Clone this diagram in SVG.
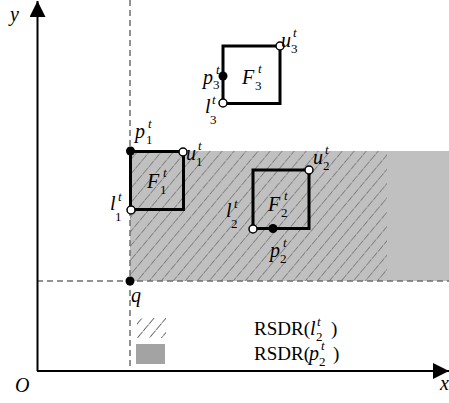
<svg xmlns="http://www.w3.org/2000/svg" width="449" height="403" viewBox="0 0 449 403" font-family="Liberation Serif">
  <style>
    .ax { stroke: #000; stroke-width: 2; fill: none; }
    .guide { stroke: #6f6f6f; stroke-width: 1.5; stroke-dasharray: 6 4; fill: none; }
    .box { stroke: #000; stroke-width: 3; fill: none; }
    .open { fill: #fff; stroke: #000; stroke-width: 1.5; }
    .solid { fill: #000; }
    .it { font-style: italic; font-size: 20px; }
    .ix { font-style: italic; font-size: 13px; }
    .sx { font-size: 13px; }
    .rm { font-size: 19px; }
  </style>
  <defs>
    <pattern id="hatch" patternUnits="userSpaceOnUse" width="9.2" height="9.2" patternTransform="rotate(40)">
      <line x1="0" y1="0" x2="0" y2="9.2" stroke="#555" stroke-width="1.1" stroke-dasharray="5 1"/>
    </pattern>
    <pattern id="hatchKey" patternUnits="userSpaceOnUse" width="9.2" height="9.2" patternTransform="rotate(40)">
      <line x1="0" y1="0" x2="0" y2="9.2" stroke="#111" stroke-width="1.2" stroke-dasharray="5 1"/>
    </pattern>
    <marker id="arrow" viewBox="0 0 16 16" refX="16" refY="8" markerWidth="16" markerHeight="16" markerUnits="userSpaceOnUse" orient="auto">
      <path d="M0,0 L16,8 L0,16 Z" fill="#000"/>
    </marker>
  </defs>

  <!-- dominance regions -->
  <g id="regions">
    <rect x="130" y="151" width="319" height="130" fill="#c0c0c0"/>
    <rect x="130" y="151" width="257" height="130" fill="url(#hatch)"/>
  </g>

  <!-- guide lines through q -->
  <g id="guides">
    <line class="guide" x1="130" y1="0" x2="130" y2="371"/>
    <line class="guide" x1="37" y1="281" x2="449" y2="281"/>
  </g>

  <!-- axes -->
  <g id="axes">
    <line class="ax" x1="37.5" y1="371" x2="37.5" y2="1" marker-end="url(#arrow)"/>
    <line class="ax" x1="37" y1="371" x2="449" y2="371" marker-end="url(#arrow)"/>
    <text class="it" x="10" y="21">y</text>
    <text class="it" x="15" y="392">O</text>
    <text class="it" x="440" y="390">x</text>
  </g>

  <!-- query point -->
  <g id="q">
    <circle class="solid" cx="130" cy="281" r="4.5"/>
    <text class="it" x="131" y="302">q</text>
  </g>

  <!-- object F1 -->
  <g id="F1">
    <rect class="box" x="130.5" y="151.5" width="53" height="58"/>
    <circle class="solid" cx="130.5" cy="151" r="4.5"/>
    <circle class="open" cx="183" cy="152" r="4"/>
    <circle class="open" cx="131" cy="210" r="4"/>
    <text class="it" x="147" y="188">F</text><text class="sx" x="160" y="194">1</text><text class="ix" x="163" y="177">t</text>
    <text class="it" x="135" y="138">p</text><text class="sx" x="146" y="144">1</text><text class="ix" x="148" y="128">t</text>
    <text class="it" x="186" y="160">u</text><text class="sx" x="196" y="166">1</text><text class="ix" x="198" y="150">t</text>
    <text class="it" x="110" y="210">l</text><text class="sx" x="115" y="221">1</text><text class="ix" x="118" y="201">t</text>
  </g>

  <!-- object F2 -->
  <g id="F2">
    <rect class="box" x="253" y="170" width="56" height="58.5"/>
    <circle class="open" cx="309" cy="170" r="4"/>
    <circle class="solid" cx="273" cy="228.5" r="4.5"/>
    <circle class="open" cx="253" cy="229" r="4"/>
    <text class="it" x="268" y="211">F</text><text class="sx" x="281" y="217">2</text><text class="ix" x="284" y="200">t</text>
    <text class="it" x="313" y="164">u</text><text class="sx" x="323" y="170">2</text><text class="ix" x="325" y="154">t</text>
    <text class="it" x="226" y="217">l</text><text class="sx" x="231" y="228">2</text><text class="ix" x="234" y="208">t</text>
    <text class="it" x="270" y="257">p</text><text class="sx" x="280" y="263">2</text><text class="ix" x="283" y="247">t</text>
  </g>

  <!-- object F3 -->
  <g id="F3">
    <rect class="box" x="223" y="46" width="57" height="57.5"/>
    <circle class="open" cx="280" cy="46" r="4"/>
    <circle class="solid" cx="223" cy="76" r="4.5"/>
    <circle class="open" cx="223" cy="103" r="4"/>
    <text class="it" x="242" y="84">F</text><text class="sx" x="255" y="90">3</text><text class="ix" x="258" y="73">t</text>
    <text class="it" x="281" y="47">u</text><text class="sx" x="291" y="53">3</text><text class="ix" x="293" y="37">t</text>
    <text class="it" x="203" y="84">p</text><text class="sx" x="213" y="89">3</text><text class="ix" x="216" y="74">t</text>
    <text class="it" x="205" y="113">l</text><text class="sx" x="210" y="124">3</text><text class="ix" x="212" y="104">t</text>
  </g>

  <!-- legend -->
  <g id="legend">
    <rect x="137" y="318" width="29" height="20" fill="url(#hatchKey)"/>
    <rect x="136" y="344" width="29" height="20" fill="#a3a3a3"/>
    <text class="rm" x="254" y="335">RSDR(</text><text class="it" x="310" y="335">l</text><text class="sx" x="316" y="341">2</text><text class="ix" x="317" y="326">t</text><text class="rm" x="331" y="335">)</text>
    <text class="rm" x="254" y="360">RSDR(</text><text class="it" x="309" y="360">p</text><text class="sx" x="319" y="366">2</text><text class="ix" x="321" y="350">t</text><text class="rm" x="333" y="360">)</text>
  </g>
</svg>
